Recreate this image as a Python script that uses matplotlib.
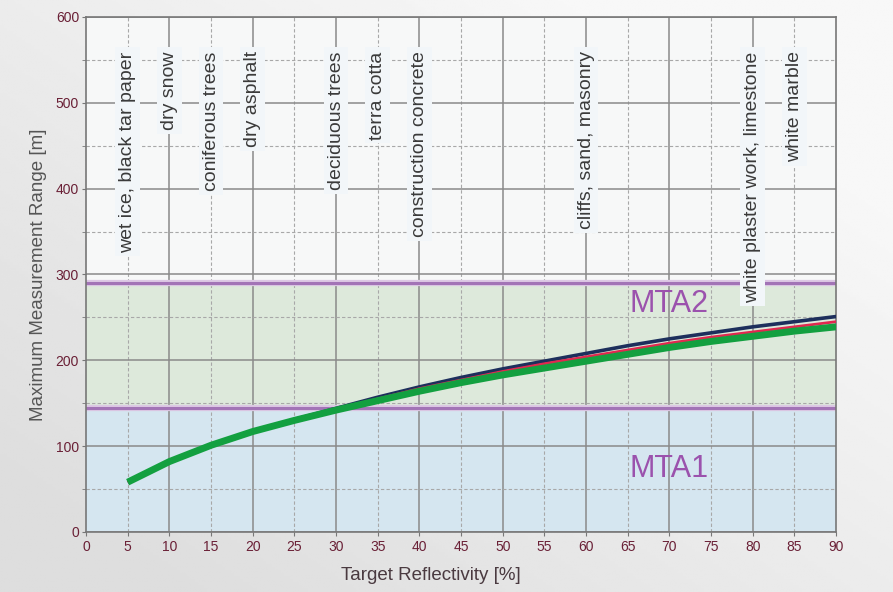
import numpy as np
import matplotlib
matplotlib.use("Agg")
import matplotlib.pyplot as plt

plt.rcParams['font.family'] = ['Liberation Sans', 'DejaVu Sans']

# reflectivity [%] vs max range [m], three laser variants
refl = [5, 10, 15, 20, 25, 30, 35, 40, 45, 50, 55, 60, 65, 70, 75, 80, 85, 90]
range_green = [58, 82, 101, 117, 130, 142, 153, 164, 174, 183, 191, 199, 207, 215, 222, 228, 234, 239]
range_red = [58, 82, 101, 117, 130, 143, 155, 167, 177, 187, 196, 204, 212, 220, 227, 233, 239, 245]
range_navy = [58, 82, 101, 117, 131, 144, 157, 169, 180, 190, 199, 208, 217, 225, 232, 239, 245, 251]

# measurement time ambiguity zones
mta1_top = 145
mta2_top = 290

materials = ['wet ice, black tar paper', 'dry snow', 'coniferous trees', 'dry asphalt',
             'deciduous trees', 'terra cotta', 'construction concrete',
             'cliffs, sand, masonry', 'white plaster work, limestone', 'white marble']
material_refl = [5, 10, 15, 20, 30, 35, 40, 60, 80, 85]

fig = plt.figure(figsize=(8.93, 5.92), dpi=100)

# soft gray backdrop
bg = fig.add_axes([0, 0, 1, 1], zorder=-10)
yy, xx = np.mgrid[0:1:200j, 0:1:300j]
shade = 0.87 + 0.10 * np.clip(0.7 * xx + 0.7 * yy - 0.15, 0, 1)
bg.imshow(shade, cmap='gray', vmin=0, vmax=1, origin='lower', aspect='auto', extent=[0, 1, 0, 1])
bg.axis('off')

ax = fig.add_axes([0.0963, 0.1014, 0.8400, 0.8699])
ax.set_facecolor('#f7f8f8')
ax.set_xlim(0, 90)
ax.set_ylim(0, 600)

ax.axhspan(0, mta1_top, color='#d5e6f0', zorder=0.1, lw=0)
ax.axhspan(mta1_top, mta2_top, color='#dde9db', zorder=0.1, lw=0)

ax.set_xticks(np.arange(0, 91, 5))
ax.set_xticklabels([str(v) for v in range(0, 91, 5)])
ax.set_yticks(np.arange(0, 601, 100))
ax.set_yticks(np.arange(50, 600, 100), minor=True)
ax.set_axisbelow(True)
ax.grid(True, which='major', axis='y', color='#8a8a8a', lw=1.1)
ax.grid(True, which='minor', axis='y', color='#a8a8a8', lw=0.8, ls=(0, (3, 2)))
for v in range(10, 90, 10):
    ax.axvline(v, color='#8a8a8a', lw=1.1, zorder=0.5)
for v in range(5, 90, 10):
    ax.axvline(v, color='#a8a8a8', lw=0.8, ls=(0, (3, 2)), zorder=0.5)

for s in ax.spines.values():
    s.set_color('#777777')
    s.set_linewidth(1.2)
ax.tick_params(axis='both', which='both', length=3, color='#777777',
               labelsize=10, labelcolor='#6a2036')
ax.tick_params(axis='x', pad=3)
ax.tick_params(axis='y', pad=2)

for y in (mta1_top, mta2_top):
    ax.axhline(y, color='#dcc8e4', lw=4.5, zorder=2)
    ax.axhline(y, color='#a274b6', lw=2.2, zorder=2.1)

ax.plot(refl, range_navy, color='#1d2f5c', lw=2.6, zorder=3, solid_capstyle='butt')
ax.plot(refl, range_red, color='#e0284f', lw=2.0, zorder=3.1, solid_capstyle='butt')
ax.plot(refl, range_green, color='#13a040', lw=5.0, zorder=3.2, solid_capstyle='butt')

ax.text(70, 266, 'MTA2', color='#9b52ad', fontsize=22, ha='center', va='center', zorder=4)
ax.text(70, 73, 'MTA1', color='#9b52ad', fontsize=22, ha='center', va='center', zorder=4)

for name, r in zip(materials, material_refl):
    ax.text(r, 560, name, rotation=90, ha='center', va='top', fontsize=14,
            color='#3a3a3a', zorder=5,
            bbox=dict(boxstyle='square,pad=0.2', fc='#f2f6f9', ec='none'))

ax.set_xlabel('Target Reflectivity [%]', fontsize=13.5, color='#4a3a40')
ax.xaxis.set_label_coords(0.46, -0.068)
ax.set_ylabel('Maximum Measurement Range [m]', fontsize=13.5, color='#555555', labelpad=6)

fig.savefig('out.png', dpi=100)
